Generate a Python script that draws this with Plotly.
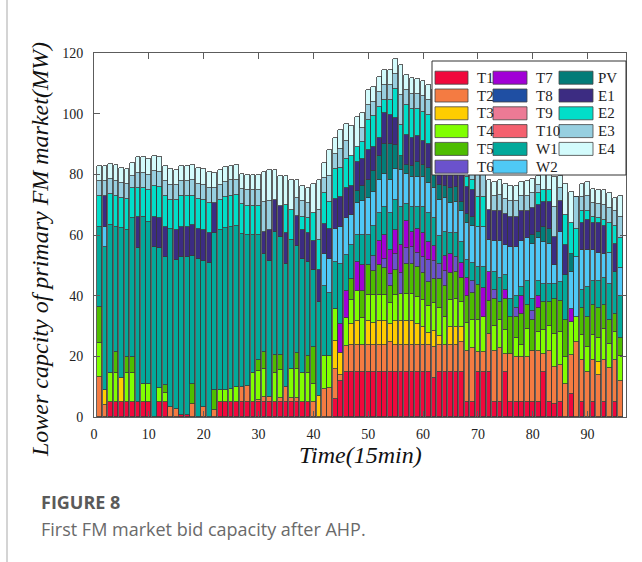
import plotly.graph_objects as go

# 15-minute dispatch intervals
slots = list(range(1, 97))

# Lower capacity offered by each unit (MW), one value per interval
T1 = [0, 0, 4.9, 4.9, 4.9, 4.9, 4.9, 4.9, 4.9, 4.9,
      0, 4.9, 4.9, 0, 0, 0.5, 0.5, 0, 0, 0,
      0, 0, 4.9, 4.9, 4.9, 4.9, 4.9, 4.9, 4.9, 4.9,
      4.9, 4.9, 4.9, 4.9, 4.9, 4.9, 4.9, 4.9, 4.9, 0,
      0, 0, 0, 5.9, 12.0, 15, 15, 15, 15, 15,
      15, 15, 15, 15, 15, 15, 15, 15, 15, 15,
      15, 13, 15, 15, 15, 14.8, 14.8, 4.9, 4.9, 14.8,
      14.8, 14.8, 4.9, 4.9, 14.8, 4.9, 4.9, 4.9, 4.9, 4.9,
      4.9, 14.8, 4.9, 4.4, 4.9, 0, 7.7, 0, 4.9, 0,
      4.9, 0, 4.9, 0, 4.9, 0]
T2 = [13.2, 4.0, 0, 0, 0, 0, 0, 0, 0, 0,
      0, 0, 0, 3.3, 2.7, 0, 0, 4.4, 0, 3.3,
      0, 2.2, 0, 0, 0, 0, 4.9, 5.2, 0, 0.8,
      1.7, 1.6, 0, 1.5, 4.9, 1.5, 1.5, 0, 0, 5.0,
      0, 9.2, 9.5, 9.9, 2.0, 8.5, 8.6, 8.6, 8.6, 8.6,
      8.6, 8.6, 8.6, 9.6, 8.6, 8.6, 8.6, 8.6, 8.6, 8.6,
      8.6, 10.0, 8.6, 8.6, 8.6, 9.0, 10.0, 17.0, 18.0, 6.6,
      6.6, 12.7, 17.0, 18.0, 6.0, 16.0, 15.0, 15.0, 15.0, 17.0,
      17.0, 6.0, 17.0, 12.1, 12.1, 11.0, 12.6, 24.7, 14.0, 15.0,
      14.0, 14.0, 14.0, 16.0, 14.0, 12.0]
T3 = [0, 4.8, 0, 0, 8.1, 0, 0, 0, 0, 0,
      0, 0, 0, 0, 0, 0, 0, 0, 0, 0,
      0, 0, 0, 0, 0, 0, 0, 0, 0, 0,
      0, 0, 0, 0, 0, 0, 0, 0, 0, 0,
      6.8, 0, 0, 9.4, 7.0, 0, 7.0, 8.0, 0, 8.0,
      7.5, 8.0, 8.0, 6.0, 8.0, 8.0, 8.0, 8.0, 7.0, 6.0,
      4.0, 5.5, 3.0, 0, 6.0, 6.0, 5.0, 0, 0, 0,
      0, 0, 0, 0, 0, 0, 0, 0, 0, 0,
      0, 0, 0, 0, 0, 0, 0, 0, 0, 0,
      0, 4.0, 0, 0, 0, 0]
T4 = [11.2, 0, 9.6, 9.6, 0, 9.6, 9.6, 0, 6.0, 6.0,
      0, 4.8, 3.0, 0, 0, 0, 0, 0, 0, 0,
      0, 0, 3.9, 4.1, 4.4, 5.0, 0, 0, 9.6, 9.5,
      9.3, 0, 9.6, 9.0, 0, 9.5, 9.5, 9.6, 9.6, 6.0,
      0, 11.0, 10.5, 10.4, 0, 9.0, 8.0, 10.0, 9.0, 8.5,
      9.0, 8.5, 8.5, 7.0, 8.5, 9.0, 9.0, 9.0, 9.0, 9.0,
      9.0, 9.0, 9.5, 9.5, 9.0, 9.0, 8.0, 9.0, 9.0, 10.5,
      11.6, 0, 8.0, 9.0, 8.0, 0, 6.0, 4.0, 9.0, 0,
      6.0, 8.0, 8.0, 11.0, 11.0, 8.8, 11.0, 8.2, 8.0, 8.0,
      8.0, 8.0, 10.0, 8.0, 9.0, 8.0]
T5 = [11.8, 0, 0, 6.9, 0, 5.3, 5.3, 0, 0, 0,
      0, 0, 2.5, 0, 0, 0, 0, 6.6, 0, 0,
      0, 6.6, 0, 0, 0, 0, 0, 0, 0, 3.5,
      5.5, 0, 6.0, 5.0, 0, 0, 5.2, 0, 5.5, 12.0,
      0, 0, 0, 0, 0, 0, 7.0, 0, 9.0, 10.0,
      8.0, 10.0, 9.0, 5.5, 8.5, 0, 10.0, 10.0, 10.0, 9.0,
      8.0, 8.0, 9.5, 10.0, 9.0, 9.0, 8.0, 9.0, 9.0, 11.5,
      0, 10.9, 9.0, 6.0, 10.0, 12.0, 7.0, 10.0, 8.0, 10.0,
      8.0, 9.0, 8.0, 11.5, 10.4, 12.1, 0, 0, 9.0, 10.0,
      10.0, 10.0, 8.0, 8.0, 6.0, 6.0]
T6 = [0, 0, 0, 0, 0, 0, 0, 0, 0, 0,
      0, 0, 0, 0, 0, 0, 0, 0, 0, 0,
      0, 0, 0, 0, 0, 0, 0, 0, 0, 0,
      0, 0, 0, 0, 0, 0, 0, 0, 0, 0,
      0, 0, 0, 0, 0, 0, 0, 0, 0, 0,
      5.0, 0, 3.0, 4.0, 5.0, 7.0, 5.0, 5.5, 4.5, 5.0,
      7.0, 6.0, 5.0, 5.0, 0, 5.0, 0, 0, 4.0, 0,
      0, 0, 3.0, 0, 0, 0, 3.0, 0, 0, 3.0,
      0, 0, 0, 0, 0, 0, 0, 0, 0, 0,
      0, 0, 0, 0, 0, 0]
T7 = [0, 0, 0, 0, 0, 0, 0, 0, 0, 0,
      0, 0, 0, 0, 0, 0, 0, 0, 0, 0,
      0, 0, 0, 0, 0, 0, 0, 0, 0, 0,
      0, 0, 0, 0, 0, 0, 0, 0, 0, 0,
      0, 0, 0, 0, 9.5, 9.0, 0, 9.5, 8.5, 0,
      0, 8.0, 8.0, 8.0, 8.0, 9.0, 9.0, 5.0, 8.0, 8.0,
      6.0, 5.0, 0, 5.0, 6.0, 0, 5.0, 6.0, 0, 0,
      9.5, 9.4, 0, 0, 3.0, 0, 0, 6.0, 0, 0,
      4.0, 0, 0, 0, 0, 0, 4.4, 0, 0, 0,
      0, 0, 0, 0, 0, 0]
T8 = [0] * 96
T9 = [0] * 96
T10 = [0] * 96
W1 = [26.6, 47.2, 48.9, 41.1, 49.2, 42.0, 45.9, 50.9, 54.9, 53.5,
      56.0, 46.0, 42.3, 58.8, 49.1, 52.2, 52.2, 42.0, 52.2, 48.1,
      50.7, 51.8, 52.7, 53.4, 53.5, 53.1, 50.6, 49.8, 45.4, 41.2,
      32.4, 44.9, 40.5, 39.0, 40.7, 42.6, 35.4, 37.5, 31.0, 25.3,
      31.1, 23.1, 21.0, 15.4, 20.0, 12.0, 11.0, 9.0, 10.0, 10.0,
      10.0, 9.0, 9.0, 12.0, 10.0, 12.5, 5.5, 8.0, 7.0, 8.5,
      9.5, 9.0, 9.0, 8.0, 7.0, 8.0, 7.0, 6.0, 6.0, 6.0,
      6.9, 0, 6.0, 8.0, 5.0, 6.0, 4.0, 3.0, 8.0, 4.0,
      5.0, 6.0, 6.0, 5.0, 6.0, 14.8, 0, 0, 6.0, 10.0,
      8.0, 9.0, 9.0, 12.0, 14.0, 14.0]
W2 = [0, 6.8, 0, 0, 0, 0, 0, 0, 0, 0,
      0, 0, 0, 0, 0, 0, 0, 0, 0, 0,
      0, 0, 0, 0, 0, 0, 0, 0, 0, 0,
      0, 0, 0, 0, 0, 0, 0, 0, 0, 0,
      0, 10.4, 11.0, 11.0, 12.0, 12.0, 10.0, 10.5, 11.0, 12.0,
      11.0, 11.0, 11.0, 11.0, 10.0, 12.4, 10.0, 10.0, 10.0, 10.0,
      10.0, 10.0, 12.0, 11.0, 10.0, 10.0, 10.0, 12.0, 12.0, 13.2,
      13.2, 10.4, 10.0, 12.0, 10.0, 17.0, 16.0, 15.0, 14.0, 18.0,
      14.0, 14.0, 13.0, 6.0, 16.5, 0, 12.0, 19.8, 13.0, 12.0,
      10.0, 9.0, 8.0, 10.0, 0, 9.0]
PV = [0, 0, 0, 0, 0, 0, 0, 0, 0, 0,
      0, 0, 0, 0, 0, 0, 0, 0, 0, 0,
      0, 0, 0, 0, 0, 0, 0, 0, 0, 0,
      0, 0, 0, 0, 0, 0, 0, 0, 0, 0,
      0, 0, 0, 0, 0, 0, 0, 4.0, 5.0, 6.0,
      7.0, 8.0, 10.0, 12.0, 8.0, 4.6, 3.0, 3.5, 5.0, 4.0,
      5.0, 5.0, 5.0, 4.0, 5.0, 5.0, 3.0, 3.0, 3.0, 0,
      0, 0, 0, 0, 0, 0, 0, 0, 0, 3.0,
      2.0, 5.0, 5.0, 0, 0, 0, 6.0, 0, 0, 0,
      0, 0, 0, 0, 0, 0]
E1 = [0, 10.1, 0, 0, 0, 0, 0, 10.0, 0, 0,
      10.0, 10.0, 10.1, 0, 9.9, 10.1, 10.1, 10.2, 9.9, 10.1,
      9.9, 10.0, 0, 0, 0, 0, 0, 0, 0, 0,
      7.2, 10.1, 10.4, 10.0, 10.0, 0, 9.9, 9.5, 9.6, 9.6,
      10.4, 9.9, 10.0, 9.8, 10.0, 10.0, 9.4, 9.5, 9.0, 10.0,
      8.0, 6.0, 10.0, 9.5, 9.0, 0, 10.0, 9.5, 8.5, 8.0,
      8.0, 8.0, 10.0, 8.5, 6.0, 7.0, 9.0, 9.0, 9.0, 0,
      0, 10.0, 10.0, 10.0, 10.0, 10.0, 10.0, 10.0, 9.0, 9.0,
      9.0, 8.0, 9.0, 9.5, 10.4, 9.9, 0, 0, 9.0, 10.0,
      9.0, 10.0, 9.0, 0, 9.0, 0]
E2 = [10.0, 0, 10.0, 10.2, 10.0, 10.0, 9.9, 9.8, 9.8, 10.4,
      10.0, 10.0, 10.0, 9.5, 9.9, 10.0, 10.0, 9.8, 9.8, 9.9,
      10.0, 0, 9.9, 10.1, 10.2, 10.1, 9.9, 9.8, 9.8, 9.8,
      0, 0, 0, 0, 9.4, 9.8, 0, 4.6, 5.0, 9.4,
      9.9, 10.1, 9.0, 9.9, 9.5, 9.5, 10.0, 5.0, 5.5, 9.8,
      10.0, 10.0, 4.5, 5.0, 9.5, 10.1, 9.8, 9.5, 9.0, 9.5,
      9.3, 9.7, 9.4, 9.4, 9.4, 4.2, 3.2, 3.1, 3.1, 9.9,
      9.9, 0, 0, 0, 0, 0, 0, 0, 0, 0,
      4.0, 4.0, 4.0, 0, 0, 9.9, 10.4, 9.3, 4.0, 3.0,
      2.0, 1.5, 2.0, 10.0, 6.0, 10.0]
E3 = [5.0, 5.0, 5.0, 5.0, 5.0, 5.0, 4.0, 5.0, 5.0, 5.0,
      5.0, 5.0, 5.0, 5.0, 5.0, 5.0, 5.0, 5.0, 5.0, 5.0,
      5.0, 5.0, 5.0, 5.0, 5.0, 5.0, 5.0, 5.0, 5.0, 5.0,
      9.8, 9.8, 0, 0, 0, 0, 5.8, 5.0, 5.0, 0,
      9.9, 5.0, 8.5, 5.0, 6.3, 6.0, 0, 0, 4.8, 4.9,
      4.8, 5.0, 5.0, 5.0, 4.9, 9.9, 4.9, 5.0, 4.9, 5.1,
      5.0, 5.0, 5.0, 5.0, 5.0, 5.0, 5.0, 5.0, 3.5, 8.5,
      7.5, 0, 4.8, 5.2, 5.0, 5.2, 5.2, 4.8, 5.0, 4.8,
      2.7, 0, 0, 9.8, 4.2, 0, 0, 10.5, 4.5, 4.7,
      4.7, 4.7, 5.0, 5.0, 5.0, 7.0]
E4 = [5.1, 5.0, 5.1, 5.4, 5.0, 5.0, 4.1, 5.1, 5.1, 5.2,
      5.0, 5.0, 4.9, 5.2, 4.9, 5.1, 4.9, 5.1, 5.1, 5.2,
      5.1, 4.8, 5.1, 4.9, 4.9, 5.0, 4.9, 5.1, 5.1, 5.0,
      9.9, 10.0, 10.1, 10.2, 9.4, 9.9, 5.8, 5.0, 4.9, 9.6,
      10.1, 5.2, 8.5, 5.4, 6.3, 5.5, 10.0, 9.9, 4.8, 4.9,
      4.9, 5.0, 4.8, 4.8, 4.9, 9.9, 4.9, 5.0, 4.9, 5.1,
      5.0, 5.0, 5.0, 5.0, 5.0, 5.0, 5.0, 5.0, 3.5, 0,
      0, 9.8, 4.7, 5.1, 5.1, 5.2, 5.2, 4.7, 4.9, 4.8,
      2.7, 5.2, 5.1, 9.8, 4.1, 10.4, 10.0, 0, 4.5, 4.7,
      4.6, 4.7, 4.8, 4.8, 4.4, 6.7]

names = ["T1", "T2", "T3", "T4", "T5", "T6", "T7", "T8", "T9", "T10",
         "W1", "W2", "PV", "E1", "E2", "E3", "E4"]
colors = ["#F0083C", "#F47B42", "#FFCD00", "#80FF00", "#4EBD00", "#6B52CC",
          "#A100D6", "#1F4FA3", "#EC7A95", "#F4606E", "#02A99B", "#4FC9F6",
          "#037C78", "#3C2C82", "#02DEC9", "#97CFE0", "#D3FBFC"]
values = [T1, T2, T3, T4, T5, T6, T7, T8, T9, T10, W1, W2, PV, E1, E2, E3, E4]

W, H = 642, 562
L, R, T, B = 94, 16, 53, 145
PW, PH = W - L - R, H - T - B


def px(x):
    return (x - L) / PW


def py(y):
    return (H - B - y) / PH


fig = go.Figure()
for name, vals, col in zip(names, values, colors):
    fig.add_trace(go.Bar(
        x=slots, y=vals, name=name, width=0.86, showlegend=False,
        marker=dict(color=col, line=dict(color="#3a3a3a", width=0.8)),
    ))

serif = "Liberation Serif, Times New Roman, serif"
axis_common = dict(
    showline=True, mirror="ticks", linecolor="#5c5c5c", linewidth=1,
    ticks="inside", ticklen=6, tickcolor="#5c5c5c", showgrid=False,
    zeroline=False, tickfont=dict(family=serif, size=14, color="#222"),
)

fig.update_layout(
    width=W, height=H, barmode="stack", bargap=0,
    margin=dict(l=L, r=R, t=T, b=B),
    paper_bgcolor="white", plot_bgcolor="white",
    xaxis=dict(range=[0, 97], tickvals=list(range(0, 91, 10)),
               ticklabelstandoff=4, **axis_common),
    yaxis=dict(range=[0, 120], tickvals=list(range(0, 121, 20)),
               ticklabelstandoff=7, **axis_common),
)

shapes = [
    # left rule of the page
    dict(type="line", xref="paper", yref="paper", x0=px(7), x1=px(7),
         y0=py(H), y1=py(0), line=dict(color="#d4d4d4", width=2)),
    # legend box
    dict(type="rect", xref="paper", yref="paper", layer="above",
         x0=px(432), x1=px(626), y0=py(175), y1=py(61),
         fillcolor="white", line=dict(color="#333", width=1)),
]
annotations = [
    dict(text="<i>Time(15min)</i>", xref="paper", yref="paper",
         x=0.5, y=py(455), showarrow=False, xanchor="center", yanchor="middle",
         font=dict(family=serif, size=24, color="#111")),
    dict(text="<i>Lower capcity of primary FM market(MW)</i>", xref="paper",
         yref="paper", x=px(40), y=py(250), textangle=-90, showarrow=False,
         xanchor="center", yanchor="middle",
         font=dict(family=serif, size=24, color="#111")),
    dict(text="<b>FIGURE 8</b>", xref="paper", yref="paper", x=px(39),
         y=py(502), showarrow=False, xanchor="left", yanchor="middle",
         font=dict(family="Open Sans", size=18, color="#5a5a5a")),
    dict(text="First FM market bid capacity after AHP.", xref="paper",
         yref="paper", x=px(39), y=py(529), showarrow=False, xanchor="left",
         yanchor="middle", font=dict(family="Open Sans", size=18, color="#6a6a6a")),
]

# legend: three columns of six entries
sw_x = [(435, 468), (493, 527), (559, 593)]
tx_x = [475, 534, 596]
for i, (name, col) in enumerate(zip(names, colors)):
    c, r = divmod(i, 6)
    yc = 77.7 + 17.8 * r
    shapes.append(dict(type="rect", xref="paper", yref="paper", layer="above",
                       x0=px(sw_x[c][0]), x1=px(sw_x[c][1]),
                       y0=py(yc + 6.5), y1=py(yc - 6.5),
                       fillcolor=col, line=dict(color="#444", width=0.8)))
    annotations.append(dict(text=name, xref="paper", yref="paper",
                            x=px(tx_x[c]), y=py(yc), showarrow=False,
                            xanchor="left", yanchor="middle",
                            font=dict(family=serif, size=15, color="#222")))

fig.update_layout(shapes=shapes, annotations=annotations)
fig.write_html("out.html")
